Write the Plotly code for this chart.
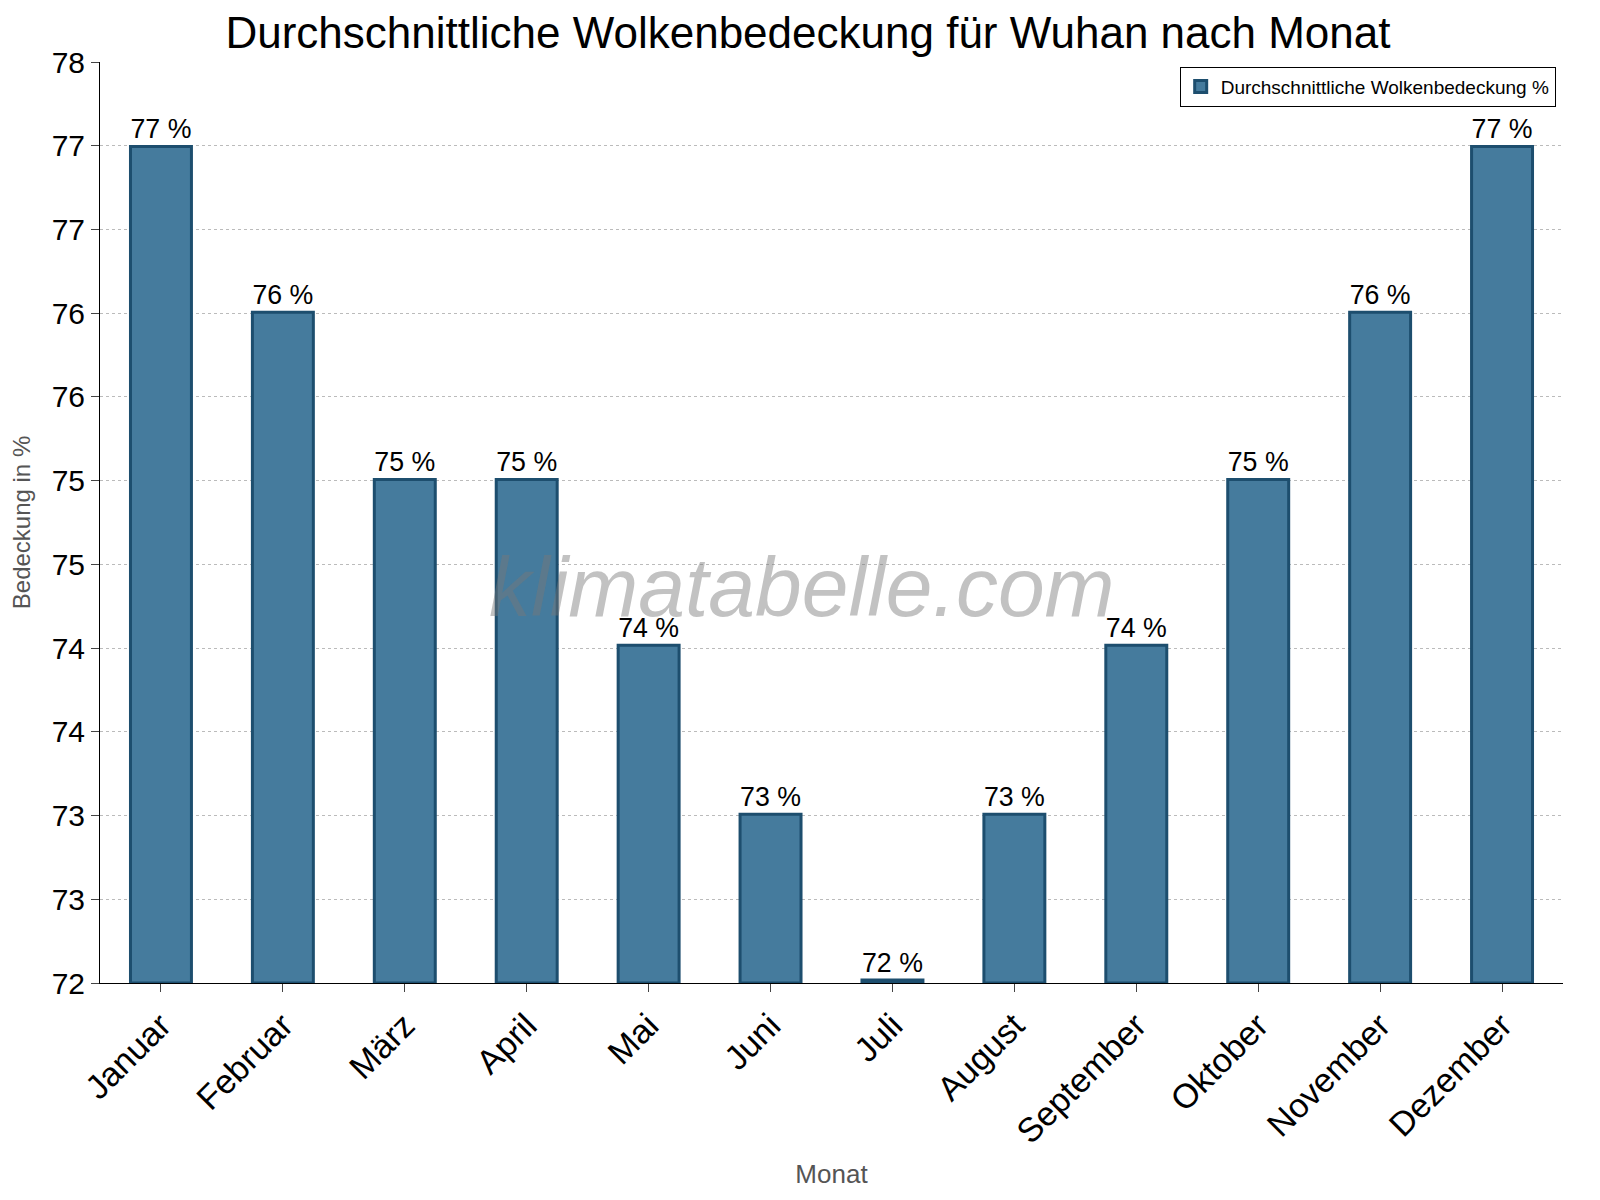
import plotly.graph_objects as go

months = ["Januar", "Februar", "März", "April", "Mai", "Juni", "Juli",
          "August", "September", "Oktober", "November", "Dezember"]
cover = [77.45, 76.37, 75.28, 75.28, 74.2, 73.1, 72.02, 73.1, 74.2, 75.28, 76.37, 77.45]
labels = ["77 %", "76 %", "75 %", "75 %", "74 %", "73 %", "72 %",
          "73 %", "74 %", "75 %", "76 %", "77 %"]

ymin, ymax = 72, 78
tickvals = [ymin + i * (ymax - ymin) / 11 for i in range(12)]
ticktext = [str(int(v + 0.5)) for v in tickvals]

fig = go.Figure()
fig.add_trace(go.Bar(x=months, y=[c - ymin for c in cover], base=ymin,
                     name="Durchschnittliche Wolkenbedeckung %",
                     text=labels, textposition="outside", cliponaxis=False,
                     textfont=dict(size=30, color="black"),
                     marker=dict(color="#457b9d", line=dict(color="#1d4e6e", width=3)),
                     width=0.5))

fig.add_annotation(text="<i>klimatabelle.com</i>", xref="paper", yref="paper", x=0.48, y=0.43,
                   showarrow=False, font=dict(size=84, color="rgba(120,120,120,0.45)",
                                              family="Liberation Sans"),
                   xanchor="center")
fig.update_layout(
    width=1600, height=1200,
    font=dict(family="Liberation Sans, Arial", color="black"),
    title=dict(text="Durchschnittliche Wolkenbedeckung für Wuhan nach Monat",
               x=0.5, y=0.992, yanchor="top", font=dict(size=44)),
    plot_bgcolor="white", paper_bgcolor="white",
    margin=dict(l=84, r=45, t=54, b=225),
    showlegend=True,
    legend=dict(x=0.995, y=0.995, xanchor="right", yanchor="top",
                bordercolor="black", borderwidth=1, font=dict(size=19)),
)
fig.update_xaxes(title=dict(text="Monat", font=dict(size=26, color="#555")),
                 tickangle=-45, tickfont=dict(size=34), showline=True, linecolor="black",
                 ticks="outside", ticklen=8)
fig.update_yaxes(title=dict(text="Bedeckung in %", font=dict(size=24, color="#555")),
                 range=[ymin, ymax], tickvals=tickvals, ticktext=ticktext,
                 tickfont=dict(size=30), showline=True, linecolor="black",
                 ticks="outside", ticklen=8,
                 gridcolor="#bbb", griddash="dot", zeroline=False)

fig.write_html("out.html")
